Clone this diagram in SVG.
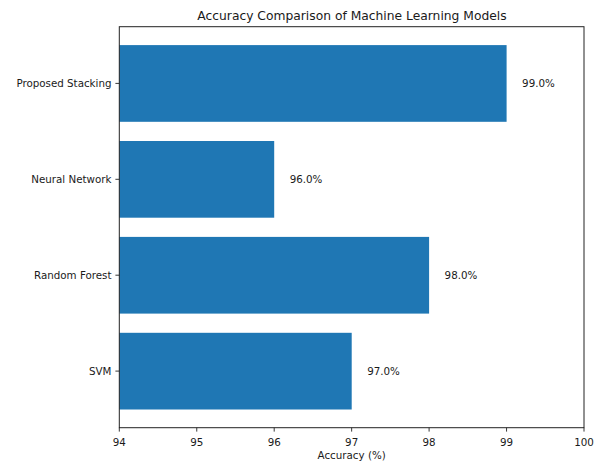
<svg xmlns="http://www.w3.org/2000/svg" width="597" height="465" viewBox="0 0 597 465">
<style>
text{font-family:"DejaVu Sans","Liberation Sans",sans-serif;fill:#1a1a1a;font-size:10.3px}
.bar{fill:#1f77b4}
.tick{stroke:#222;stroke-width:0.9}
.yl{text-anchor:end;dominant-baseline:central}
.xl{text-anchor:middle}
.val{dominant-baseline:central}
</style>
<rect width="597" height="465" fill="#fff"/>
<text x="352" y="19.5" text-anchor="middle" style="font-size:12.3px">Accuracy Comparison of Machine Learning Models</text>
<g id="bars">
<g id="svm"><rect class="bar" x="119.3" y="332.8" width="232.4" height="76.7"/><text class="val" x="367.2" y="371.1">97.0%</text></g>
<g id="random-forest"><rect class="bar" x="119.3" y="236.9" width="309.8" height="76.7"/><text class="val" x="444.6" y="275.2">98.0%</text></g>
<g id="neural-network"><rect class="bar" x="119.3" y="141" width="154.9" height="76.7"/><text class="val" x="289.7" y="179.3">96.0%</text></g>
<g id="proposed-stacking"><rect class="bar" x="119.3" y="45.1" width="387.3" height="76.7"/><text class="val" x="522.1" y="83.4">99.0%</text></g>
</g>
<g id="axes">
<rect x="119.3" y="26.7" width="464.7" height="401" fill="none" stroke="#222" stroke-width="1"/>
<g class="tick">
<line x1="119.3" y1="427.7" x2="119.3" y2="431.6"/>
<line x1="196.75" y1="427.7" x2="196.75" y2="431.6"/>
<line x1="274.2" y1="427.7" x2="274.2" y2="431.6"/>
<line x1="351.65" y1="427.7" x2="351.65" y2="431.6"/>
<line x1="429.1" y1="427.7" x2="429.1" y2="431.6"/>
<line x1="506.55" y1="427.7" x2="506.55" y2="431.6"/>
<line x1="584" y1="427.7" x2="584" y2="431.6"/>
<line x1="115.4" y1="371.1" x2="119.3" y2="371.1"/>
<line x1="115.4" y1="275.2" x2="119.3" y2="275.2"/>
<line x1="115.4" y1="179.3" x2="119.3" y2="179.3"/>
<line x1="115.4" y1="83.4" x2="119.3" y2="83.4"/>
</g>
<text class="xl" x="119.3" y="445.5">94</text>
<text class="xl" x="196.75" y="445.5">95</text>
<text class="xl" x="274.2" y="445.5">96</text>
<text class="xl" x="351.65" y="445.5">97</text>
<text class="xl" x="429.1" y="445.5">98</text>
<text class="xl" x="506.55" y="445.5">99</text>
<text class="xl" x="584" y="445.5">100</text>
<text class="yl" x="111.5" y="371.1">SVM</text>
<text class="yl" x="111.5" y="275.2">Random Forest</text>
<text class="yl" x="111.5" y="179.3">Neural Network</text>
<text class="yl" x="111.5" y="83.4">Proposed Stacking</text>
<text class="xl" x="351.65" y="458.5">Accuracy (%)</text>
</g>
</svg>
